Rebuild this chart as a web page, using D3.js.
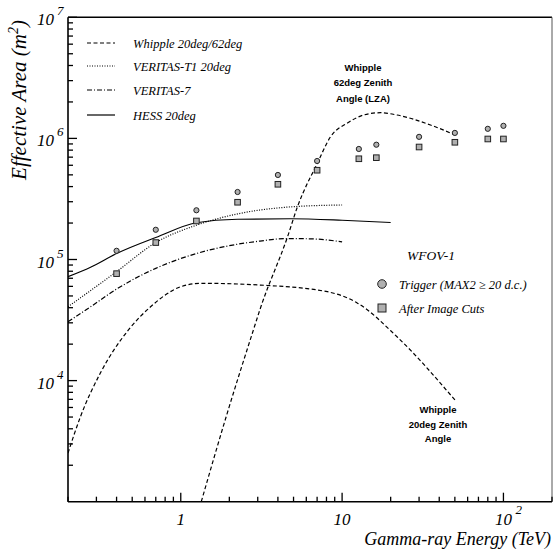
<!DOCTYPE html>
<html><head><meta charset="utf-8">
<script src="https://cdn.jsdelivr.net/npm/d3@7"></script>
<style>
html,body{margin:0;padding:0;background:#fff;}
svg{display:block;}
.serif{font-family:"Liberation Serif","DejaVu Serif",serif;font-style:italic;}
.ann{font-family:"Liberation Sans",Arial,sans-serif;font-weight:bold;font-size:9.5px;}
</style></head>
<body>
<svg id="c" width="554" height="550"></svg>
<script>
// ---------- data ----------
const energies   = [0.4, 0.7, 1.25, 2.25, 4, 7, 12.7, 16.3, 30, 50, 80, 100];
const trigger    = [1.18e5, 1.76e5, 2.55e5, 3.61e5, 4.99e5, 6.51e5, 8.18e5, 8.87e5, 1.03e6, 1.11e6, 1.20e6, 1.27e6];
const afterCuts  = [7.64e4, 1.38e5, 2.08e5, 2.97e5, 4.18e5, 5.46e5, 6.79e5, 6.93e5, 8.49e5, 9.29e5, 9.89e5, 9.89e5];

const whipple20E = [0.2, 0.239, 0.318, 0.474, 0.65, 1.0, 1.33, 3.12, 8.1, 12.4, 21.9, 50.4];
const whipple20A = [2.52e3, 5.04e3, 1.16e4, 2.62e4, 4.07e4, 5.96e4, 6.36e4, 6.15e4, 5.42e4, 4.38e4, 2.30e4, 6.84e3];

const whipple62E = [1.34, 1.94, 2.82, 3.12, 4.59, 5.29, 7.04, 8.47, 10.8, 13.6, 17.3, 21.9, 35.3, 50];
const whipple62A = [1.0e3, 5.37e3, 2.62e4, 3.98e4, 1.54e5, 2.73e5, 6.27e5, 1.03e6, 1.34e6, 1.56e6, 1.63e6, 1.56e6, 1.29e6, 1.07e6];

const veritasT1E = [0.2, 0.4, 0.7, 1.25, 2.25, 4.8, 10];
const veritasT1A = [4.07e4, 7.93e4, 1.38e5, 1.92e5, 2.38e5, 2.72e5, 2.82e5];

const veritas7E  = [0.2, 0.276, 0.4, 0.7, 1.25, 2.0, 3.1, 4.5, 6.5, 10];
const veritas7A  = [3.06e4, 4.07e4, 5.7e4, 8.45e4, 1.12e5, 1.30e5, 1.42e5, 1.49e5, 1.48e5, 1.40e5];

const hessE      = [0.2, 0.276, 0.4, 0.7, 1.25, 2.25, 4.8, 10, 20];
const hessA      = [7.21e4, 8.63e4, 1.12e5, 1.52e5, 2.01e5, 2.15e5, 2.17e5, 2.11e5, 2.02e5];

const xMajor = [1, 10, 100];
const xMajorLabels = [["1",""], ["10",""], ["10","2"]];
const yMajor = [1e4, 1e5, 1e6, 1e7];
const yMajorLabels = [["10","4"], ["10","5"], ["10","6"], ["10","7"]];

const legendLabels = ["Whipple 20deg/62deg", "VERITAS-T1 20deg", "VERITAS-7", "HESS 20deg"];
const legendDash = ["4,2.5", "1,1.5", "5,2,1,2", null];

// ---------- chart ----------
const svg = d3.select("#c");
const L = 68, R = 552, T = 17.3, B = 501.7;
const x = d3.scaleLog().domain([0.2, 200]).range([L, R]);
const y = d3.scaleLog().domain([1e3, 1e7]).range([B, T]);

svg.append("defs").append("clipPath").attr("id","clip")
  .append("rect").attr("x",L).attr("y",T).attr("width",R-L).attr("height",B-T);

// frame
svg.append("line").attr("x1",L).attr("x2",R).attr("y1",T).attr("y2",T).attr("stroke","#000").attr("stroke-width",1.5);
svg.append("line").attr("x1",R).attr("x2",R).attr("y1",T).attr("y2",B).attr("stroke","#555").attr("stroke-width",1);

// ticks
const xMinor = [];
[0.1, 1, 10, 100].forEach(d => { for (let k = 2; k <= 9; k++) { const v = d*k; if (v >= 0.2 && v <= 200) xMinor.push(v); } });
const yMinor = [];
[1e3, 1e4, 1e5, 1e6].forEach(d => { for (let k = 2; k <= 9; k++) yMinor.push(d*k); });

const tk = svg.append("g");
function tickLine(x1, y1, x2, y2){
  tk.append("line").attr("x1",x1).attr("y1",y1).attr("x2",x2).attr("y2",y2)
    .attr("stroke","#000").attr("stroke-width",1.3);
}
xMinor.forEach(d => { const p = x(d); tickLine(p, B, p, B-5); });
xMajor.forEach(d => { const p = x(d); tickLine(p, B, p, B-9); });
yMinor.forEach(d => { const p = y(d); tickLine(L, p, L+5, p); });
yMajor.forEach(d => { const p = y(d); tickLine(L, p, L+9, p); });

// axis lines
svg.append("line").attr("x1",L).attr("x2",R).attr("y1",B).attr("y2",B).attr("stroke","#000").attr("stroke-width",1.6);
svg.append("line").attr("x1",L).attr("x2",L).attr("y1",T).attr("y2",B).attr("stroke","#000").attr("stroke-width",1.6);

// tick labels
xMajor.forEach((v,i) => {
  const [base, sup] = xMajorLabels[i];
  svg.append("text").attr("class","serif").attr("x",x(v)).attr("y",B+23)
    .attr("text-anchor","middle").attr("font-size",17).text(base);
  if (sup) svg.append("text").attr("class","serif").attr("x",x(v)+12).attr("y",B+12)
    .attr("font-size",13).text(sup);
});
yMajor.forEach((v,i) => {
  const [base, sup] = yMajorLabels[i];
  svg.append("text").attr("class","serif").attr("x",L-14).attr("y",y(v)+8)
    .attr("text-anchor","end").attr("font-size",17).text(base);
  svg.append("text").attr("class","serif").attr("x",L-11).attr("y",y(v)-2)
    .attr("font-size",13).text(sup);
});

// axis titles
const yt = svg.append("text").attr("class","serif").attr("font-size",21)
  .attr("transform","translate(26,100) rotate(-90)").attr("text-anchor","middle");
yt.append("tspan").text("Effective Area (m");
yt.append("tspan").attr("dy",-8).attr("font-size",14).text("2");
yt.append("tspan").attr("dy",8).text(")");
svg.append("text").attr("class","serif").attr("font-size",18)
  .attr("x",551).attr("y",545).attr("text-anchor","end").text("Gamma-ray Energy (TeV)");

// curves
const line = d3.line().x(d => x(d[0])).y(d => y(d[1])).curve(d3.curveMonotoneX);
const plot = svg.append("g").attr("clip-path","url(#clip)");
function drawCurve(E, A, dash){
  const p = plot.append("path").datum(E.map((e,i)=>[e,A[i]])).attr("d",line)
    .attr("fill","none").attr("stroke","#000").attr("stroke-width",1.2);
  if (dash) p.attr("stroke-dasharray",dash);
}
drawCurve(whipple20E, whipple20A, legendDash[0]);
drawCurve(whipple62E, whipple62A, legendDash[0]);
drawCurve(veritasT1E, veritasT1A, legendDash[1]);
drawCurve(veritas7E, veritas7A, legendDash[2]);
drawCurve(hessE, hessA, legendDash[3]);

// data points
plot.selectAll("circle.trig").data(energies).join("circle").attr("class","trig")
  .attr("cx",(d)=>x(d)).attr("cy",(d,i)=>y(trigger[i])).attr("r",2.6)
  .attr("fill","#b0b0b0").attr("stroke","#222").attr("stroke-width",1);
plot.selectAll("rect.cut").data(energies).join("rect").attr("class","cut")
  .attr("x",(d)=>x(d)-2.8).attr("y",(d,i)=>y(afterCuts[i])-2.8).attr("width",5.6).attr("height",5.6)
  .attr("fill","#b0b0b0").attr("stroke","#222").attr("stroke-width",1);

// legend (top-left)
const legY = [43, 66, 90, 115];
legendLabels.forEach((t,i) => {
  const l = svg.append("line").attr("x1",87).attr("x2",115).attr("y1",legY[i]).attr("y2",legY[i])
    .attr("stroke","#000").attr("stroke-width",1.2);
  if (legendDash[i]) l.attr("stroke-dasharray",legendDash[i]);
  svg.append("text").attr("class","serif").attr("font-size",12.5).attr("x",133).attr("y",legY[i]+4.5).text(t);
});

// WFOV legend
svg.append("text").attr("class","serif").attr("font-size",13.5).attr("x",407).attr("y",260).text("WFOV-1");
svg.append("circle").attr("cx",382).attr("cy",284).attr("r",4.3).attr("fill","#b0b0b0").attr("stroke","#222").attr("stroke-width",1);
svg.append("text").attr("class","serif").attr("font-size",12.5).attr("x",399).attr("y",288.5).text("Trigger (MAX2 \u2265 20 d.c.)");
svg.append("rect").attr("x",378).attr("y",304).attr("width",8).attr("height",8).attr("fill","#b0b0b0").attr("stroke","#222").attr("stroke-width",1);
svg.append("text").attr("class","serif").attr("font-size",12.5).attr("x",399).attr("y",312.5).text("After Image Cuts");

// annotations
const ann1 = ["Whipple", "62deg Zenith", "Angle (LZA)"];
ann1.forEach((t,i)=> svg.append("text").attr("class","ann").attr("x",363).attr("y",71+i*15.3).attr("text-anchor","middle").text(t));
const ann2 = ["Whipple", "20deg Zenith", "Angle"];
ann2.forEach((t,i)=> svg.append("text").attr("class","ann").attr("x",438).attr("y",413+i*14.5).attr("text-anchor","middle").text(t));
</script>
</body></html>
